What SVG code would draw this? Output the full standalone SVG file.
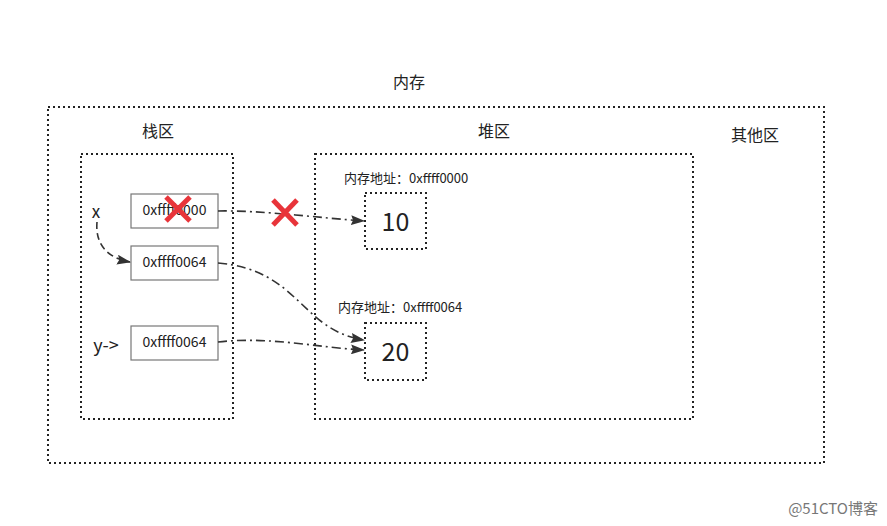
<svg xmlns="http://www.w3.org/2000/svg" width="887" height="526" viewBox="0 0 887 526">
<style>
.dot{fill:none;stroke:#222;stroke-width:2;stroke-dasharray:2 3}
.cell{fill:#fff;stroke:#777;stroke-width:1.2}
.t{font-family:"Noto Sans CJK SC","Noto Sans",sans-serif;fill:#222}
.conn{fill:none;stroke:#333;stroke-width:1.6;stroke-dasharray:9 4 2 4}
.x{stroke:#e8343a;stroke-width:5;stroke-linecap:butt}
</style>
<defs>
<marker id="ah" markerWidth="14" markerHeight="10" refX="13" refY="5" orient="auto" markerUnits="userSpaceOnUse" viewBox="0 0 14 10">
<path d="M0,0 L14,5 L0,10 L2,5 Z" fill="#333"/>
</marker>
</defs>
<rect width="887" height="526" fill="#fff"/>
<g id="memory">
<rect class="dot" x="48" y="107" width="776" height="356"/>
<text class="t" x="409" y="88" font-size="16" text-anchor="middle">内存</text>
<text class="t" x="755" y="141" font-size="16" text-anchor="middle">其他区</text>
</g>
<g id="stack">
<rect class="dot" x="81" y="154" width="152" height="265"/>
<text class="t" x="158" y="137" font-size="16" text-anchor="middle">栈区</text>
</g>
<g id="heap">
<rect class="dot" x="315" y="154" width="378" height="265"/>
<text class="t" x="494" y="137" font-size="16" text-anchor="middle">堆区</text>
</g>
<g id="cell1">
<rect class="cell" x="131" y="194" width="87" height="34"/>
<text class="t" x="174.5" y="215" font-size="14" text-anchor="middle">0xffff0000</text>
</g>
<g id="cell2">
<rect class="cell" x="131" y="246" width="87" height="34"/>
<text class="t" x="174.5" y="267" font-size="14" text-anchor="middle">0xffff0064</text>
</g>
<g id="cell3">
<rect class="cell" x="131" y="326" width="87" height="34"/>
<text class="t" x="174.5" y="347" font-size="14" text-anchor="middle">0xffff0064</text>
</g>
<g id="labelx"><text class="t" x="96" y="218" font-size="17" text-anchor="middle">x</text></g>
<g id="labely"><text class="t" x="106" y="352" font-size="18" text-anchor="middle">y-&gt;</text></g>
<g id="val10">
<rect class="dot" x="365" y="193" width="61" height="56"/>
<text class="t" x="395.5" y="231" font-size="25" text-anchor="middle">10</text>
<text class="t" x="344" y="183" font-size="13">内存地址：0xffff0000</text>
</g>
<g id="val20">
<rect class="dot" x="365" y="323" width="61" height="57"/>
<text class="t" x="395.5" y="361" font-size="25" text-anchor="middle">20</text>
<text class="t" x="338" y="312" font-size="13">内存地址：0xffff0064</text>
</g>
<g id="connectors">
<path d="M97,222 C95,245 108,258 130,262" fill="none" stroke="#333" stroke-width="1.6" stroke-dasharray="7 4" marker-end="url(#ah)"/>
<path class="conn" d="M218,211 C260,210 320,218 364,221" marker-end="url(#ah)"/>
<path class="conn" d="M218,263 C300,270 300,330 364,340" marker-end="url(#ah)"/>
<path class="conn" d="M218,342 C270,336 320,348 364,350" marker-end="url(#ah)"/>
</g>
<g id="cross1">
<line class="x" x1="166" y1="197" x2="190" y2="221"/>
<line class="x" x1="190" y1="197" x2="166" y2="221"/>
</g>
<g id="cross2">
<line class="x" x1="273" y1="200" x2="297" y2="225"/>
<line class="x" x1="297" y1="200" x2="273" y2="225"/>
</g>
<text x="878" y="514" font-family="'Noto Sans CJK SC',sans-serif" font-size="15" fill="#777" text-anchor="end">@51CTO博客</text>
</svg>
